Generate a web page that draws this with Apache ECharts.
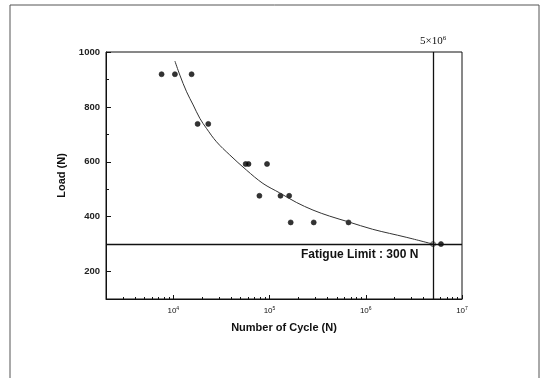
<!DOCTYPE html>
<html>
<head>
<meta charset="utf-8">
<script src="https://cdn.jsdelivr.net/npm/echarts@6/dist/echarts.min.js"></script>
<style>
  html, body { margin: 0; padding: 0; background: #fff; }
  #chart { width: 542px; height: 378px; }
</style>
</head>
<body>
<div id="chart"></div>
<script>
// test results
const testPoints = [
  [7560, 919], [10400, 919], [15500, 919],
  [17900, 738], [23100, 738],
  [56500, 592], [60500, 592], [94200, 592],
  [78500, 476], [130000, 476], [160000, 476],
  [166000, 379], [288000, 379], [662000, 379],
  [6050000, 300]
];
const runoutPoint = [[5000000, 300]];

// fitted S-N curve
const fitCurve = [
  [10400, 967], [11700, 916], [13750, 855], [16100, 807], [18900, 758],
  [22100, 722], [28100, 673], [38600, 625], [57500, 570], [85500, 521],
  [127000, 487], [190000, 452], [283000, 424], [421000, 402], [662000, 381],
  [1180000, 354], [2630000, 325], [5000000, 300]
];

const fatigueLimit = 300;
const limitCycles = 5000000;
const xRange = [2000, 10000000];
const yRange = [100, 1000];

const chart = echarts.init(document.getElementById("chart"));

const isPow10 = (v) => {
  const e = Math.round(Math.log10(v));
  return Math.abs(v - Math.pow(10, e)) < 1e-6 * v ? e : null;
};

const option = {
  animation: false,
  grid: {
    left: 106, right: 80, top: 52, bottom: 79,
    show: true, borderColor: "#111", borderWidth: 1
  },
  xAxis: {
    type: "log",
    logBase: 10,
    min: xRange[0],
    max: xRange[1],
    name: "Number of Cycle (N)",
    nameLocation: "middle",
    nameGap: 23,
    nameTextStyle: { fontFamily: "Liberation Sans", fontWeight: "bold", fontSize: 11, color: "#111" },
    axisLine: { lineStyle: { color: "#111", width: 1 } },
    axisTick: { inside: true, length: 4, lineStyle: { color: "#111" } },
    minorTick: { show: true, splitNumber: 9, length: 2, lineStyle: { color: "#111" } },
    splitLine: { show: false },
    minorSplitLine: { show: false },
    axisLabel: {
      margin: 7,
      fontFamily: "Liberation Sans",
      fontSize: 8,
      color: "#111",
      formatter: (v) => {
        const e = isPow10(v);
        return e === null ? "" : "10{sup|" + e + "}";
      },
      rich: { sup: { fontSize: 5, verticalAlign: "top", padding: [0, 0, 5, 0], fontFamily: "Liberation Sans", color: "#111" } }
    }
  },
  yAxis: {
    type: "value",
    min: yRange[0],
    max: yRange[1],
    splitNumber: 5,
    name: "Load (N)",
    nameLocation: "middle",
    nameGap: 37,
    nameTextStyle: { fontFamily: "Liberation Sans", fontWeight: "bold", fontSize: 11, color: "#111" },
    axisLine: { show: true, lineStyle: { color: "#111", width: 1 } },
    axisTick: { inside: true, length: 5, lineStyle: { color: "#111" } },
    minorTick: { show: true, splitNumber: 2, length: 3, lineStyle: { color: "#111" } },
    splitLine: { show: false },
    axisLabel: {
      margin: 6,
      fontFamily: "Liberation Sans",
      fontWeight: "bold",
      fontSize: 9.5,
      color: "#222",
      showMinLabel: false,
      formatter: (v) => String(v)
    }
  },
  series: [
    {
      type: "line",
      data: fitCurve,
      smooth: 0.35,
      showSymbol: false,
      lineStyle: { color: "#333", width: 1 },
      markLine: {
        silent: true,
        symbol: "none",
        lineStyle: { color: "#111", width: 1.3, type: "solid" },
        label: { show: false },
        data: [
          { yAxis: fatigueLimit },
          {
            xAxis: limitCycles,
            label: {
              show: true,
              position: "end",
              distance: 4,
              formatter: "5×10{sup|6}",
              fontFamily: "Liberation Serif",
              fontSize: 11,
              color: "#111",
              rich: { sup: { fontSize: 7, verticalAlign: "top", padding: [0, 0, 6, 0], fontFamily: "Liberation Serif", color: "#111" } }
            }
          }
        ]
      }
    },
    {
      type: "scatter",
      data: testPoints,
      symbol: "circle",
      symbolSize: 5,
      itemStyle: { color: "#000", borderColor: "#222", borderWidth: 0.8 }
    },
    {
      type: "scatter",
      data: runoutPoint,
      symbol: "circle",
      symbolSize: 5,
      itemStyle: { color: "#999", borderColor: "#555", borderWidth: 1 }
    }
  ],
  graphic: [
    {
      type: "rect",
      shape: { x: 10, y: 5, width: 529, height: 400 },
      style: { fill: "none", stroke: "#555", lineWidth: 1 },
      silent: true
    },
    {
      type: "text",
      left: 301,
      top: 249,
      style: {
        text: "Fatigue Limit : 300 N",
        fontFamily: "Liberation Sans",
        fontWeight: "bold",
        fontSize: 12,
        fill: "#111"
      }
    }
  ]
};

chart.setOption(option);
</script>
</body>
</html>
